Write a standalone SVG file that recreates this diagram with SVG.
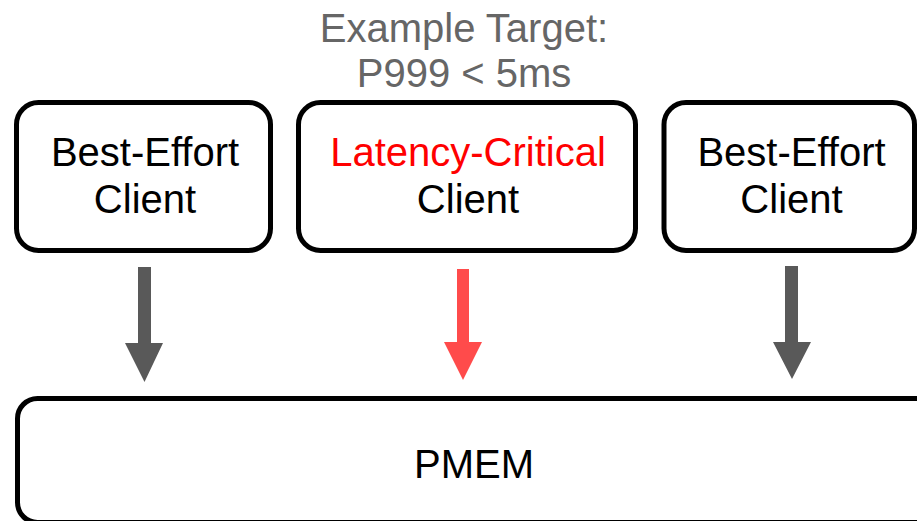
<svg xmlns="http://www.w3.org/2000/svg" width="917" height="521" viewBox="0 0 917 521">
  <style>
    .box { fill: #ffffff; stroke: #000000; stroke-width: 5; }
    .label { font-family: "Liberation Sans", Arial, sans-serif; font-size: 40px; text-anchor: middle; fill: #000000; }
    .target { fill: #666666; }
    .critical { fill: #ff0000; }
    .arrow-gray { fill: #595959; }
    .arrow-red { fill: #ff4b4b; }
  </style>

  <rect width="917" height="521" fill="#ffffff"/>

  <g id="target-note">
    <text class="label target" x="464" y="42">Example Target:</text>
    <text class="label target" x="464" y="87">P999 &lt; 5ms</text>
  </g>

  <g id="client-best-effort-left">
    <rect class="box" x="16.5" y="102.5" width="254" height="148" rx="22"/>
    <text class="label" x="145" y="166">Best-Effort</text>
    <text class="label" x="145" y="213">Client</text>
  </g>

  <g id="client-latency-critical">
    <rect class="box" x="298.5" y="102.5" width="337" height="148" rx="22"/>
    <text class="label critical" x="468" y="166">Latency-Critical</text>
    <text class="label" x="468" y="213">Client</text>
  </g>

  <g id="client-best-effort-right">
    <rect class="box" x="664" y="102.5" width="250.5" height="148" rx="22"/>
    <text class="label" x="791.5" y="166">Best-Effort</text>
    <text class="label" x="791.5" y="213">Client</text>
  </g>

  <g id="pmem">
    <rect class="box" x="17.5" y="398.5" width="940" height="124" rx="20"/>
    <text class="label" x="474" y="478">PMEM</text>
  </g>

  <g id="connectors">
    <polygon class="arrow-gray" points="138,267 151,267 151,343 163,343 144.5,382 125,343 138,343"/>
    <polygon class="arrow-red" points="457,269 469,269 469,342 482,342 463,380 444,342 457,342"/>
    <polygon class="arrow-gray" points="785,266 798,266 798,342 811,342 792,379 773,342 785,342"/>
  </g>
</svg>
